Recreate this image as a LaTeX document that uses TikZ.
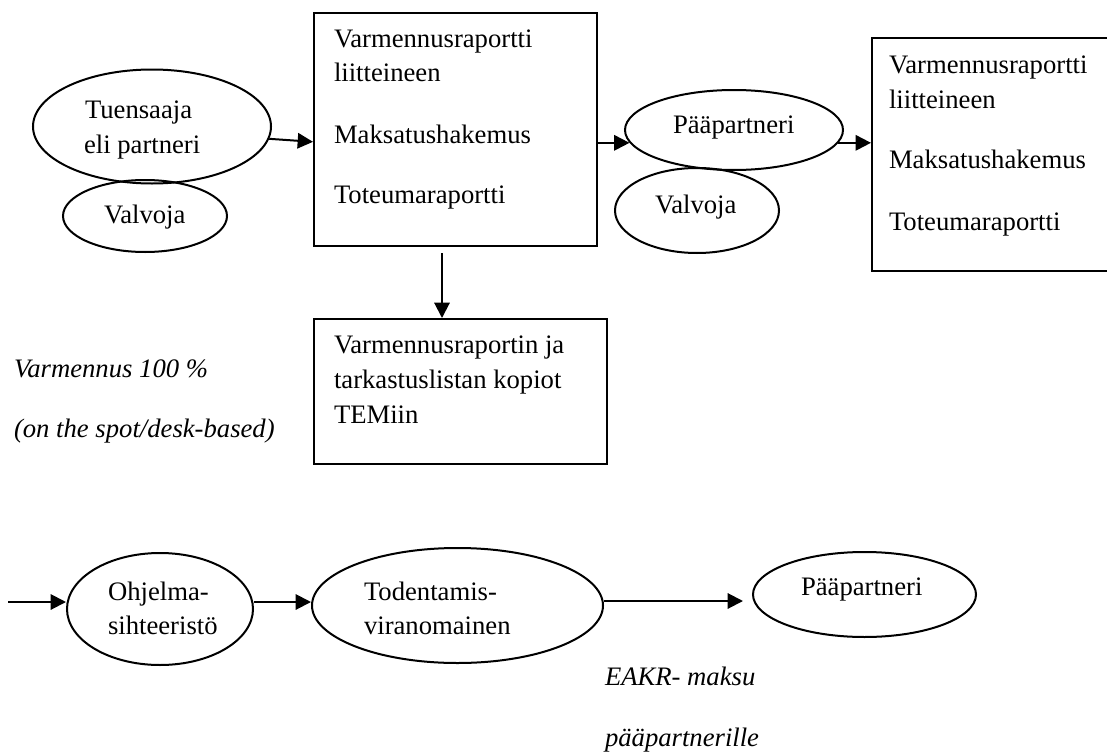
\documentclass[tikz,border=0pt]{standalone}
\usepackage{fontspec}
\setmainfont{Liberation Serif}
\usetikzlibrary{arrows.meta,shapes.geometric,calc}

\begin{document}
\begin{tikzpicture}[
    x=0.75pt, y=-0.75pt,
    line width=1.5pt,
    every node/.style={font=\fontsize{20}{24}\selectfont},
    txt/.style={anchor=base west, inner sep=0pt},
    itxt/.style={txt, font=\fontsize{20}{24}\selectfont\itshape},
    oval/.style 2 args={draw, ellipse, inner sep=0pt,
      minimum width=#1*0.75pt, minimum height=#2*0.75pt},
    frame/.style 2 args={draw, rectangle, anchor=north west, inner sep=0pt,
      minimum width=#1*0.75pt, minimum height=#2*0.75pt},
    arr/.style={-{Triangle[length=11.5pt,width=11.5pt]}}
  ]
  \useasboundingbox (0,0) rectangle (1107,753);
  \clip (0,0) rectangle (1107,753);

  % --- upper row: beneficiary, documents, lead partner ---
  \node[oval={238}{114}] (tue) at (152,126.5) {};
  \node[txt] (tue1) at (84,118) {Tuensaaja};
  \node[txt] (tue2) at (83,153) {eli partneri};

  \node[oval={164}{72}] (val1) at (145,216) {};
  \node[txt] (val1t) at (103,223) {Valvoja};

  \node[frame={283}{233}] (box1) at (313,12) {};
  \node[txt] (b1a) at (333,47)  {Varmennusraportti};
  \node[txt] (b1b) at (333,81)  {liitteineen};
  \node[txt] (b1c) at (333,143) {Maksatushakemus};
  \node[txt] (b1d) at (333,203) {Toteumaraportti};

  \node[frame={293}{145}] (box2) at (313,318) {};
  \node[txt] (b2a) at (333,353) {Varmennusraportin ja};
  \node[txt] (b2b) at (333,388) {tarkastuslistan kopiot};
  \node[txt] (b2c) at (333,423) {TEMiin};

  \node[oval={218}{80}] (pp) at (734,130) {};
  \node[txt] (ppt) at (672,133) {Pääpartneri};

  \node[oval={164}{85}] (val2) at (697,210.5) {};
  \node[txt] (val2t) at (654,213) {Valvoja};

  \node[frame={280}{233}] (box3) at (871,37) {};
  \node[txt] (b3a) at (888,73)  {Varmennusraportti};
  \node[txt] (b3b) at (888,108) {liitteineen};
  \node[txt] (b3c) at (888,168) {Maksatushakemus};
  \node[txt] (b3d) at (888,230) {Toteumaraportti};

  \node[itxt] (ver1) at (13,377) {Varmennus 100 \%};
  \node[itxt] (ver2) at (13,437) {(on the spot/desk-based)};

  % --- upper row connectors ---
  \draw[arr] (tue.-6) -- ($(tue.-6 -| box1.west)+(0,3)$);
  \draw[arr] (box1.east |- pp.187) -- (pp.187);
  \draw[arr] (pp.-7) -- (pp.-7 -| box3.west);
  \coordinate (down) at (442,253);
  \draw[arr] (down) -- (down |- box2.north);

  % --- lower row: payment chain ---
  \node[oval={186}{112}] (ohj) at (160,609) {};
  \node[txt] (ohj1) at (107,600) {Ohjelma-};
  \node[txt] (ohj2) at (107,634) {sihteeristö};

  \node[oval={291}{115}] (tod) at (457.5,605.5) {};
  \node[txt] (tod1) at (363,600) {Todentamis-};
  \node[txt] (tod2) at (363,634) {viranomainen};

  \node[oval={223}{85}] (pp2) at (864.5,594.5) {};
  \node[txt] (pp2t) at (800,595) {Pääpartneri};

  \node[itxt] (eakr1) at (604,685) {EAKR- maksu};
  \node[itxt] (eakr2) at (604,746) {pääpartnerille};

  % --- lower row connectors ---
  \coordinate (in) at (8,602);
  \coordinate (pay) at (743,601);
  \draw[arr] (in) -- (in -| ohj.west);
  \draw[arr] (ohj.east |- in) -- (in -| tod.west);
  \draw[arr] (tod.east |- pay) -- (pay);
\end{tikzpicture}
\end{document}
